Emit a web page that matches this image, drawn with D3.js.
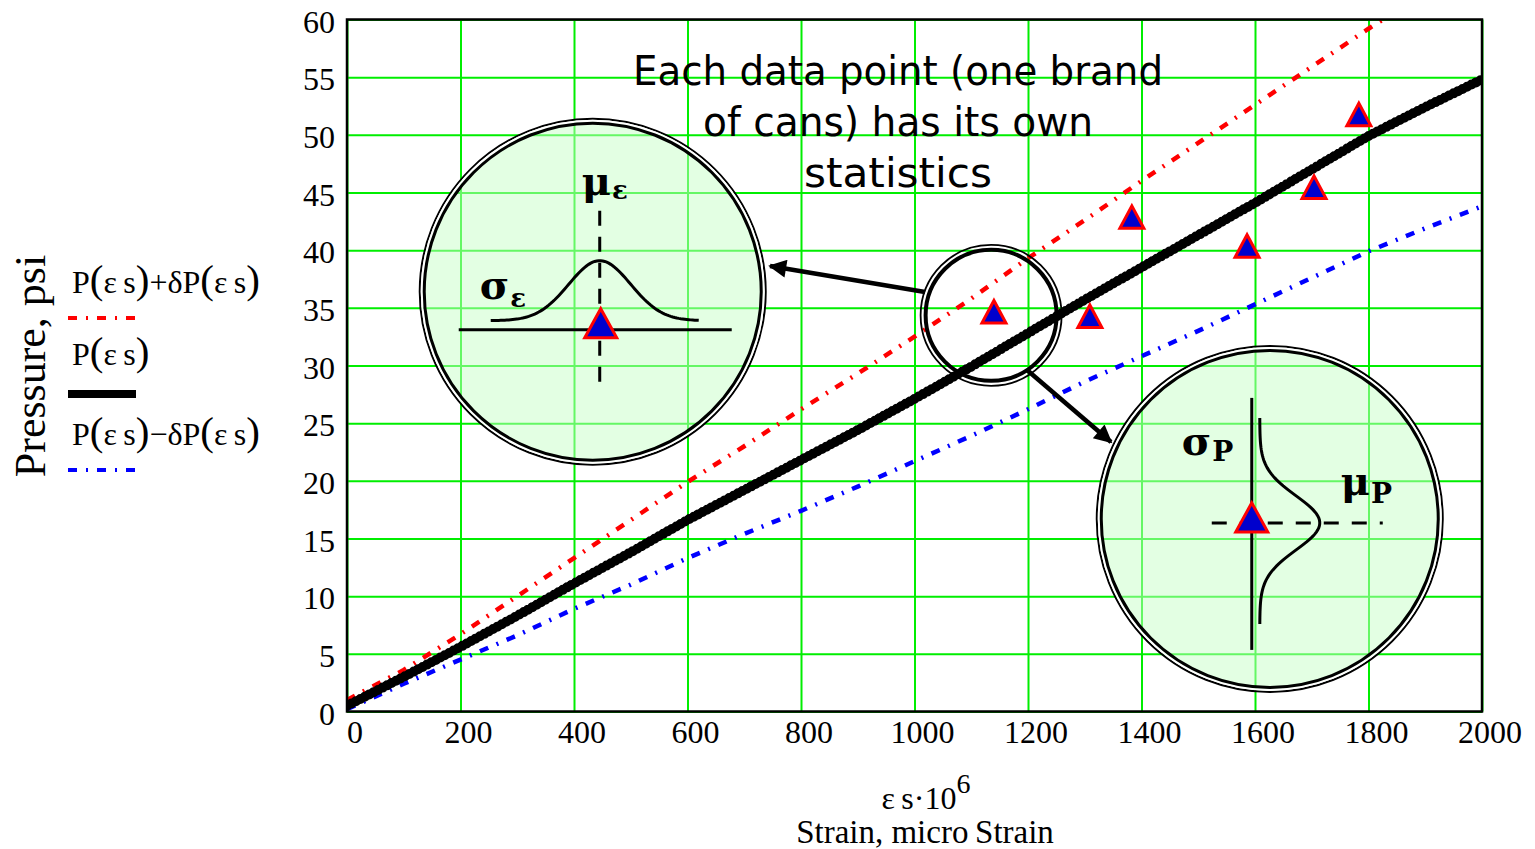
<!DOCTYPE html>
<html>
<head>
<meta charset="utf-8">
<script src="https://cdn.jsdelivr.net/npm/d3@7"></script>
<style>
  body { margin: 0; background: #fff; }
  svg { display: block; }
</style>
</head>
<body>
<svg></svg>
<script>
'use strict';

// strain grid (microstrain) and the three pressure curves
const strainGrid = [0, 100, 200, 300, 400, 500, 600, 700, 800, 900, 1000,
  1100, 1200, 1300, 1400, 1500, 1600, 1700, 1800, 1900, 2000];
const pressureMean = [0.5, 3.0, 5.6, 8.3, 11.1, 13.8, 16.6, 19.2, 21.8, 24.4, 27.1,
  29.9, 32.8, 35.7, 38.5, 41.3, 44.1, 47.0, 49.9, 52.4, 54.8];
const pressureUpper = [1.0, 3.6, 6.7, 10.0, 13.3, 16.6, 19.9, 23.0, 26.2, 29.3, 32.5,
  35.8, 39.3, 42.6, 46.0, 49.3, 52.6, 55.9, 59.2, 62.3, 65.5];
const pressureLower = [0.2, 2.4, 4.5, 6.6, 8.9, 11.0, 13.3, 15.4, 17.4, 19.5, 21.7,
  23.9, 26.2, 28.6, 30.8, 33.0, 35.3, 37.6, 39.9, 41.9, 43.8];

// measured cans (triangles)
const canStrain = [1140, 1309, 1383, 1586, 1704, 1783];
const canPressure = [34.6, 34.2, 42.8, 40.3, 45.4, 51.7];

const xTicks = [0, 200, 400, 600, 800, 1000, 1200, 1400, 1600, 1800, 2000];
const yTicks = [0, 5, 10, 15, 20, 25, 30, 35, 40, 45, 50, 55, 60];

const noteLines = ['Each data point (one brand', 'of cans) has its own', 'statistics'];
const legendLabels = ['P(εs)+δP(εs)', 'P(εs)', 'P(εs)−δP(εs)'];

const svgWidth = 1535;
const svgHeight = 849;
const serif = '"Liberation Serif", "Times New Roman", serif';

const svg = d3.select('svg')
  .attr('width', svgWidth)
  .attr('height', svgHeight);

const x = d3.scaleLinear().domain([0, 2000]).range([347, 1482]);
const y = d3.scaleLinear().domain([0, 60]).range([711.5, 19.5]);
const plotH = y(0) - y(60);

svg.append('defs').append('clipPath')
  .attr('id', 'plotClip')
  .append('rect')
  .attr('x', x(0)).attr('y', y(60))
  .attr('width', x(2000) - x(0)).attr('height', plotH);

// grid lines
const gridX = svg.append('g')
  .attr('transform', `translate(0,${y(0)})`)
  .call(d3.axisBottom(x).tickValues(xTicks).tickSize(-plotH).tickFormat(''));
const gridY = svg.append('g')
  .attr('transform', `translate(${x(0)},0)`)
  .call(d3.axisLeft(y).tickValues(yTicks).tickSize(-(x(2000) - x(0))).tickFormat(''));
[gridX, gridY].forEach(g => {
  g.select('.domain').remove();
  g.selectAll('line').attr('stroke', '#00ee00').attr('stroke-width', 2);
});

// tick labels
const axX = svg.append('g')
  .attr('transform', `translate(0,${y(0)})`)
  .call(d3.axisBottom(x).tickValues(xTicks).tickSize(0).tickPadding(9)
    .tickFormat(d3.format('d')));
const axY = svg.append('g')
  .attr('transform', `translate(${x(0)},0)`)
  .call(d3.axisLeft(y).tickValues(yTicks).tickSize(0).tickPadding(12)
    .tickFormat(d3.format('d')));
[axX, axY].forEach(g => {
  g.select('.domain').remove();
  g.selectAll('text')
    .attr('font-family', serif)
    .attr('font-size', 32)
    .attr('fill', '#000');
});
axX.selectAll('text').attr('dx', 7.5);
axY.selectAll('text').attr('dy', '0.4em');

// big callout circles (positions given in data units)
const callouts = [
  { strain: 433, pressure: 36.4, kind: 'strain' },
  { strain: 1626, pressure: 16.7, kind: 'pressure' }
];

function ring(g, r, fill) {
  g.append('circle').attr('r', r).attr('fill', fill || 'none')
    .attr('stroke', '#000').attr('stroke-width', 2);
  g.append('circle').attr('r', r - 2).attr('fill', 'none')
    .attr('stroke', '#fff').attr('stroke-width', 2);
  g.append('circle').attr('r', r - 4.5).attr('fill', 'none')
    .attr('stroke', '#000').attr('stroke-width', 3);
}

function bigTriangle(g, cx, cy) {
  g.append('path')
    .attr('d', 'M0,-15 L16,14 L-16,14 Z')
    .attr('transform', `translate(${cx},${cy})`)
    .attr('fill', '#0000cd')
    .attr('stroke', '#ff0000')
    .attr('stroke-width', 3)
    .attr('stroke-linejoin', 'miter');
}

function symbolLabel(g, sx, sy, main, sub, subDx, subDy, mainSize, subSize) {
  const t = g.append('text')
    .attr('x', sx).attr('y', sy)
    .attr('font-family', '"DejaVu Serif", serif')
    .attr('font-weight', 'bold')
    .attr('font-size', mainSize)
    .attr('fill', '#000');
  t.append('tspan').text(main);
  t.append('tspan')
    .attr('dx', subDx).attr('dy', subDy)
    .attr('font-size', subSize)
    .text(sub);
}

const bell = d3.line();

callouts.forEach(c => {
  const g = svg.append('g')
    .attr('transform', `translate(${x(c.strain)},${y(c.pressure)})`);
  g.append('circle').attr('r', 172)
    .attr('fill', 'rgb(200,255,200)').attr('fill-opacity', 0.5);
  ring(g, 173);

  if (c.kind === 'strain') {
    g.append('line')
      .attr('x1', -134).attr('x2', 139).attr('y1', 38).attr('y2', 38)
      .attr('stroke', '#000').attr('stroke-width', 3);
    g.append('line')
      .attr('x1', 7).attr('x2', 7).attr('y1', -81).attr('y2', 96)
      .attr('stroke', '#000').attr('stroke-width', 3)
      .attr('stroke-dasharray', '15 11');
    const pts = d3.range(-102, 107, 2).map(dx =>
      [dx, 29 - 60 * Math.exp(-((dx - 7) ** 2) / (2 * 31 * 31))]);
    g.append('path').attr('d', bell(pts))
      .attr('fill', 'none').attr('stroke', '#000').attr('stroke-width', 3);
    bigTriangle(g, 8, 32);
    symbolLabel(g, -11, -97, 'μ', 'ε', 1, 4, 40, 26);
    symbolLabel(g, -113, 7, 'σ', 'ε', 1, 8, 40, 26);
  } else {
    g.append('line')
      .attr('x1', -18).attr('x2', -18).attr('y1', -121).attr('y2', 131)
      .attr('stroke', '#000').attr('stroke-width', 3);
    g.append('line')
      .attr('x1', -58).attr('x2', 113).attr('y1', 4).attr('y2', 4)
      .attr('stroke', '#000').attr('stroke-width', 3)
      .attr('stroke-dasharray', '15 13');
    const pts = d3.range(-101, 107, 2).map(dy =>
      [-10 + 60 * Math.exp(-((dy - 4) ** 2) / (2 * 27 * 27)), dy]);
    g.append('path').attr('d', bell(pts))
      .attr('fill', 'none').attr('stroke', '#000').attr('stroke-width', 3);
    bigTriangle(g, -18, -1);
    symbolLabel(g, -88, -64, 'σ', 'P', 1, 6, 40, 28);
    symbolLabel(g, 71, -24, 'μ', 'P', 1, 8, 40, 28);
  }
});

// data curves
const curve = d3.line()
  .x(d => x(d[0]))
  .y(d => y(d[1]));

const plotG = svg.append('g').attr('clip-path', 'url(#plotClip)');

const dashPattern = '9 9 2 9';

plotG.append('path')
  .datum(strainGrid.map((s, i) => [s, pressureUpper[i]]))
  .attr('d', curve)
  .attr('fill', 'none')
  .attr('stroke', '#ff0000')
  .attr('stroke-width', 4.5)
  .attr('stroke-dasharray', dashPattern);

plotG.append('path')
  .datum(strainGrid.map((s, i) => [s, pressureLower[i]]))
  .attr('d', curve)
  .attr('fill', 'none')
  .attr('stroke', '#0000ff')
  .attr('stroke-width', 4.5)
  .attr('stroke-dasharray', dashPattern);

const meanData = strainGrid.map((s, i) => [s, pressureMean[i]]);
plotG.append('path')
  .datum(meanData)
  .attr('d', curve)
  .attr('fill', 'none')
  .attr('stroke', '#000')
  .attr('stroke-width', 7)
  .attr('stroke-linecap', 'round');
// beaded edge, like the thick Mathcad trace
plotG.append('path')
  .datum(meanData)
  .attr('d', curve)
  .attr('fill', 'none')
  .attr('stroke', '#000')
  .attr('stroke-width', 10)
  .attr('stroke-linecap', 'round')
  .attr('stroke-dasharray', '0 5');

// plot frame
svg.append('rect')
  .attr('x', x(0)).attr('y', y(60))
  .attr('width', x(2000) - x(0)).attr('height', plotH)
  .attr('fill', 'none')
  .attr('stroke', '#000')
  .attr('stroke-width', 2.5);

// measured points
svg.append('g')
  .selectAll('path')
  .data(canStrain.map((s, i) => [s, canPressure[i]]))
  .join('path')
  .attr('d', 'M0,-12 L12,10.5 L-12,10.5 Z')
  .attr('transform', d => `translate(${x(d[0])},${y(d[1])})`)
  .attr('fill', '#0000cd')
  .attr('stroke', '#ff0000')
  .attr('stroke-width', 3);

// small ring around one data point
const smallRing = svg.append('g')
  .attr('transform', `translate(${x(1135)},${y(34.35)})`);
smallRing.append('circle').attr('r', 70.5).attr('fill', 'none')
  .attr('stroke', '#000').attr('stroke-width', 1.8);
smallRing.append('circle').attr('r', 65.5).attr('fill', 'none')
  .attr('stroke', '#000').attr('stroke-width', 4);

// arrows
svg.append('defs').append('marker')
  .attr('id', 'arrowHead')
  .attr('viewBox', '0 0 10 10')
  .attr('refX', 9).attr('refY', 5)
  .attr('markerWidth', 5).attr('markerHeight', 4)
  .attr('markerUnits', 'strokeWidth')
  .attr('orient', 'auto')
  .append('path')
  .attr('d', 'M0,0 L10,5 L0,10 Z')
  .attr('fill', '#000');

const arrows = [
  [[925, 292], [770, 266]],
  [[1027, 370], [1111, 442]]
];
svg.append('g')
  .selectAll('line')
  .data(arrows)
  .join('line')
  .attr('x1', d => d[0][0]).attr('y1', d => d[0][1])
  .attr('x2', d => d[1][0]).attr('y2', d => d[1][1])
  .attr('stroke', '#000')
  .attr('stroke-width', 4.5)
  .attr('marker-end', 'url(#arrowHead)');

// note text
const noteWidths = [530, 390, 188];
svg.append('g')
  .selectAll('text')
  .data(noteLines)
  .join('text')
  .attr('x', 898)
  .attr('y', (d, i) => 85 + i * 51)
  .attr('text-anchor', 'middle')
  .attr('font-family', '"Comic Sans MS", "DejaVu Sans", sans-serif')
  .attr('font-size', 40)
  .attr('textLength', (d, i) => noteWidths[i])
  .attr('lengthAdjust', 'spacingAndGlyphs')
  .text(d => d);

// legend
function mathText(g, tx, ty, label) {
  const t = g.append('text')
    .attr('x', tx).attr('y', ty)
    .attr('font-family', serif)
    .attr('font-size', 32)
    .attr('fill', '#000');
  label.split(/([()])/).filter(p => p !== '').forEach(p => {
    if (p === '(' || p === ')') {
      t.append('tspan').attr('font-size', 41).text(p);
    } else {
      t.append('tspan').text(p.replace('εs', 'ε\u2009s'));
    }
  });
}

const legendG = svg.append('g');
const legendY = [293, 365, 445];
const legendStroke = ['#ff0000', '#000', '#0000ff'];
legendLabels.forEach((lab, i) => {
  mathText(legendG, 72, legendY[i], lab);
  const ly = legendY[i] + 25;
  const ln = legendG.append('line')
    .attr('x1', 68).attr('x2', 136)
    .attr('y1', ly).attr('y2', ly)
    .attr('stroke', legendStroke[i]);
  if (i === 1) {
    ln.attr('stroke-width', 8).attr('y1', ly + 4).attr('y2', ly + 4);
  } else {
    ln.attr('stroke-width', 4).attr('stroke-dasharray', dashPattern);
  }
});

// axis titles
svg.append('text')
  .attr('transform', 'translate(45,366) rotate(-90)')
  .attr('text-anchor', 'middle')
  .attr('font-family', serif)
  .attr('font-size', 44)
  .text('Pressure, psi');

const xt = svg.append('text')
  .attr('x', 926).attr('y', 809)
  .attr('text-anchor', 'middle')
  .attr('font-family', serif)
  .attr('font-size', 32);
xt.append('tspan').text('ε\u2009s\u00b710');
xt.append('tspan').attr('dy', -16).attr('font-size', 28).text('6');

svg.append('text')
  .attr('x', 925).attr('y', 843)
  .attr('text-anchor', 'middle')
  .attr('font-family', serif)
  .attr('font-size', 33)
  .text('Strain, micro\u2009Strain');
</script>
</body>
</html>
